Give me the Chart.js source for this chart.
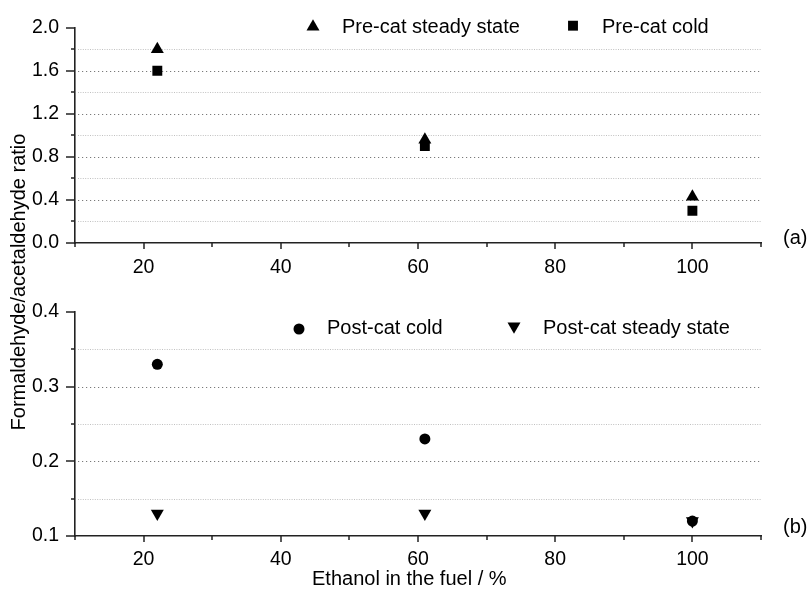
<!DOCTYPE html>
<html><head><meta charset="utf-8">
<script src="https://cdn.jsdelivr.net/npm/chart.js@4.4.1/dist/chart.umd.min.js"></script>
<style>
html,body{margin:0;padding:0;background:#fff;}
#wrap{position:relative;width:811px;height:591px;background:#fff;}
#wrap canvas{position:absolute;left:0;top:0;}
</style></head><body>
<div id="wrap">
<canvas id="cTop" width="811" height="591"></canvas>
<canvas id="cBot" width="811" height="591"></canvas>
</div>
<script>
// ---------- data ----------
const ethanol = [22, 61, 100];                 // Ethanol in the fuel / %
const preCatSteady = [1.8, 0.96, 0.43];
const preCatCold = [1.6, 0.9, 0.3];
const postCatCold = [0.33, 0.23, 0.12];
const postCatSteady = [0.13, 0.13, 0.12];
const seriesNames = ['Pre-cat steady state', 'Pre-cat cold', 'Post-cat cold', 'Post-cat steady state'];
const xRange = [10, 110];
const xStep = 10, xLabelStep = 20;
const topRange = [0, 2.0];
const topStep = 0.2, topLabelStep = 0.4;
const botRange = [0.1, 0.4];
const botStep = 0.05, botLabelStep = 0.1;
const yTitle = 'Formaldehyde/acetaldehyde ratio';
const xTitle = 'Ethanol in the fuel / %';
const panelTags = ['(a)', '(b)'];

// ---------- helpers ----------
const FONT = '"Liberation Sans", Arial, Helvetica, sans-serif';
Chart.defaults.font.family = FONT;
Chart.defaults.color = '#000';
const AXIS = '#222';
function pts(ys) { return ethanol.map((x, i) => ({x: x, y: ys[i]})); }
function isMult(v, step) { const r = v / step; return Math.abs(r - Math.round(r)) < 1e-6; }

function drawMarker(ctx, style, rot, r, x, y) {
  if (Chart.helpers && Chart.helpers.drawPoint) {
    Chart.helpers.drawPoint(ctx, {pointStyle: style, rotation: rot || 0, radius: r, borderWidth: 0}, x, y);
    return;
  }
  ctx.beginPath();
  if (style === 'circle') ctx.arc(x, y, r, 0, Math.PI * 2);
  else if (style === 'rect') { const s = r * Math.SQRT1_2; ctx.rect(x - s, y - s, 2 * s, 2 * s); }
  else {
    let a = (rot || 0) * Math.PI / 180;
    for (let k = 0; k < 3; k++) {
      const px = x + Math.sin(a) * r, py = y - Math.cos(a) * r;
      if (k === 0) ctx.moveTo(px, py); else ctx.lineTo(px, py);
      a += 2 * Math.PI / 3;
    }
    ctx.closePath();
  }
  ctx.fill();
}

const decor = {
  id: 'decor',
  beforeDatasetsDraw(chart, args, o) {
    const ctx = chart.ctx, ca = chart.chartArea, ys = chart.scales.y;
    ctx.save();
    ys.ticks.forEach(t => {
      if (Math.abs(t.value - ys.max) < 1e-9 || Math.abs(t.value - ys.min) < 1e-9) return;
      const py = Math.round(ys.getPixelForValue(t.value)) + 0.5;
      const major = t.label !== '';
      ctx.beginPath();
      ctx.lineWidth = 1;
      ctx.strokeStyle = major ? '#7a7a7a' : '#c0c0c0';
      ctx.setLineDash(major ? [1.2, 2.8] : [1, 1.4]);
      ctx.moveTo(ca.left + 3, py); ctx.lineTo(ca.right, py); ctx.stroke();
    });
    ctx.restore();
  },
  afterDraw(chart, args, o) {
    const ctx = chart.ctx, ca = chart.chartArea, ys = chart.scales.y, xs = chart.scales.x;
    ctx.save();
    ctx.strokeStyle = AXIS; ctx.lineWidth = 1.5; ctx.setLineDash([]);
    ys.ticks.forEach(t => {
      const py = Math.round(ys.getPixelForValue(t.value));
      const len = t.label !== '' ? 9 : 4;
      ctx.beginPath(); ctx.moveTo(ca.left - len, py); ctx.lineTo(ca.left, py); ctx.stroke();
    });
    xs.ticks.forEach(t => {
      const px = Math.round(xs.getPixelForValue(t.value));
      const len = t.label !== '' ? 6 : 4;
      ctx.beginPath(); ctx.moveTo(px, ca.bottom); ctx.lineTo(px, ca.bottom + len); ctx.stroke();
    });
    // legend
    ctx.fillStyle = '#000';
    ctx.font = '20px ' + FONT; ctx.textBaseline = 'middle'; ctx.textAlign = 'left';
    (o.legend || []).forEach(it => {
      const ds = chart.data.datasets[it.ds];
      ctx.fillStyle = '#000';
      drawMarker(ctx, ds.pointStyle, ds.pointRotation, ds.pointRadius, it.mx, it.my);
      ctx.fillText(ds.label, it.tx, it.ty);
    });
    // free texts
    (o.texts || []).forEach(tx => {
      ctx.save();
      ctx.font = (tx.size || 20) + 'px ' + FONT;
      ctx.textAlign = tx.align || 'left';
      ctx.textBaseline = 'middle';
      ctx.translate(tx.x, tx.y);
      if (tx.rot) ctx.rotate(tx.rot * Math.PI / 180);
      ctx.fillText(tx.text, 0, 0);
      ctx.restore();
    });
    ctx.restore();
  }
};
Chart.register(decor);

function makeOptions(yr, yStep, yLabelStep, padding, xAxisH, xPad, decorOpts) {
  return {
    responsive: false, animation: false, devicePixelRatio: 1,
    layout: {padding: padding},
    plugins: {legend: {display: false}, tooltip: {enabled: false}, decor: decorOpts},
    scales: {
      x: {
        type: 'linear', min: xRange[0], max: xRange[1],
        grid: {display: false, drawTicks: false},
        border: {display: true, color: AXIS, width: 1.6},
        ticks: {stepSize: xStep, autoSkip: false, maxRotation: 0, padding: xPad, color: '#000',
                font: {size: 19.5},
                callback: v => isMult(v, xLabelStep) ? String(Math.round(v)) : ''},
        afterFit: s => { s.height = xAxisH; }
      },
      y: {
        type: 'linear', min: yr[0], max: yr[1],
        grid: {display: false, drawTicks: false},
        border: {display: true, color: AXIS, width: 1.6},
        ticks: {stepSize: yStep, autoSkip: false, padding: 16, color: '#000',
                font: {size: 19.5},
                callback: v => isMult(v, yLabelStep) ? v.toFixed(1) : ''},
        afterFit: s => { s.width = 75; }
      }
    }
  };
}

function ds(label, data, style, r, rot) {
  return {label: label, data: data, pointStyle: style, pointRadius: r, pointHoverRadius: r,
          pointRotation: rot || 0, backgroundColor: '#000', borderColor: '#000',
          pointBorderWidth: 0, showLine: false};
}

// Top panel (a)
new Chart(document.getElementById('cTop'), {
  type: 'scatter',
  data: {datasets: [
    ds(seriesNames[0], pts(preCatSteady), 'triangle', 7.5),
    ds(seriesNames[1], pts(preCatCold), 'rect', 7)
  ]},
  options: makeOptions(topRange, topStep, topLabelStep,
    {left: 0, top: 19, right: 50, bottom: 296}, 52, 13,
    {
      legend: [
        {ds: 0, mx: 313, my: 26.8, tx: 342, ty: 27},
        {ds: 1, mx: 573, my: 25.7, tx: 602, ty: 27}
      ],
      texts: [
        {text: panelTags[0], x: 783, y: 238},
        {text: yTitle, x: 19, y: 282, rot: -90, align: 'center'}
      ]
    })
});

// Bottom panel (b)
new Chart(document.getElementById('cBot'), {
  type: 'scatter',
  data: {datasets: [
    ds(seriesNames[2], pts(postCatCold), 'circle', 5.5),
    ds(seriesNames[3], pts(postCatSteady), 'triangle', 7.5, 180)
  ]},
  options: makeOptions(botRange, botStep, botLabelStep,
    {left: 0, top: 312, right: 50, bottom: 0}, 55, 12,
    {
      legend: [
        {ds: 0, mx: 299, my: 329, tx: 327, ty: 328.5},
        {ds: 1, mx: 514, my: 326.3, tx: 543, ty: 328.5}
      ],
      texts: [
        {text: panelTags[1], x: 783, y: 527},
        {text: xTitle, x: 312, y: 579}
      ]
    })
});
</script>
</body></html>
